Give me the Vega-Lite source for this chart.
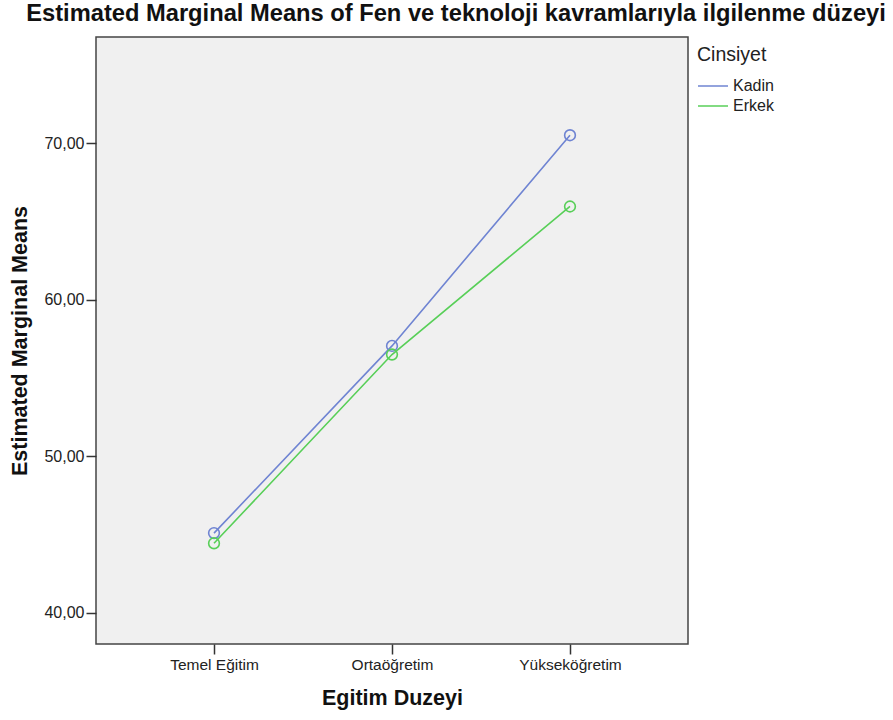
{
  "$schema": "https://vega.github.io/schema/vega-lite/v6.json",
  "autosize": "none",
  "width": 592,
  "height": 607,
  "padding": {"left": 96, "top": 37, "right": 205, "bottom": 76},
  "background": "white",
  "title": {
    "text": "Estimated Marginal Means of Fen ve teknoloji kavramlarıyla ilgilenme düzeyi",
    "font": "Liberation Sans",
    "fontSize": 23.7,
    "fontWeight": "bold",
    "color": "#111111",
    "anchor": "middle",
    "dx": 64,
    "offset": 11
  },
  "config": {
    "view": {"fill": "#f0f0f0", "stroke": "#444444", "strokeWidth": 1.5},
    "axis": {
      "labelFont": "Liberation Sans",
      "titleFont": "Liberation Sans",
      "labelColor": "#222222",
      "titleColor": "#111111",
      "tickColor": "#333333",
      "domain": false,
      "grid": false
    }
  },
  "data": {
    "values": [
      {"egitim": "Temel Eğitim", "cinsiyet": "Kadin", "mean": 45.1},
      {"egitim": "Ortaöğretim", "cinsiyet": "Kadin", "mean": 57.05},
      {"egitim": "Yükseköğretim", "cinsiyet": "Kadin", "mean": 70.5},
      {"egitim": "Temel Eğitim", "cinsiyet": "Erkek", "mean": 44.45},
      {"egitim": "Ortaöğretim", "cinsiyet": "Erkek", "mean": 56.5},
      {"egitim": "Yükseköğretim", "cinsiyet": "Erkek", "mean": 65.95}
    ]
  },
  "encoding": {
    "x": {
      "field": "egitim",
      "type": "ordinal",
      "sort": ["Temel Eğitim", "Ortaöğretim", "Yükseköğretim"],
      "scale": {"type": "point", "padding": 0.663},
      "axis": {
        "title": "Egitim Duzeyi",
        "labelAngle": 0,
        "labelFontSize": 15.5,
        "tickSize": 10,
        "tickWidth": 1.5,
        "labelPadding": 3,
        "titleFontSize": 21.5,
        "titleFontWeight": "bold",
        "titlePadding": 15
      }
    },
    "y": {
      "field": "mean",
      "type": "quantitative",
      "scale": {"domain": [38.02, 76.77], "nice": false, "zero": false},
      "axis": {
        "title": "Estimated Marginal Means",
        "values": [40, 50, 60, 70],
        "format": ".2f",
        "labelExpr": "replace(datum.label, '.', ',')",
        "labelFontSize": 16,
        "tickSize": 10,
        "tickWidth": 1.5,
        "labelPadding": 2,
        "titleFontSize": 21.5,
        "titleFontWeight": "bold",
        "titlePadding": 12
      }
    },
    "color": {
      "field": "cinsiyet",
      "type": "nominal",
      "sort": ["Kadin", "Erkek"],
      "scale": {"domain": ["Kadin", "Erkek"], "range": ["#6f84d2", "#58cf58"]},
      "legend": {
        "title": "Cinsiyet",
        "orient": "none",
        "legendX": 601,
        "legendY": 9,
        "titleFont": "Liberation Sans",
        "titleFontSize": 19.5,
        "titleFontWeight": "normal",
        "titleColor": "#222222",
        "titlePadding": 12,
        "labelFont": "Liberation Sans",
        "labelFontSize": 16,
        "labelColor": "#222222",
        "symbolType": "stroke",
        "symbolSize": 900,
        "clipHeight": 17,
        "symbolStrokeWidth": 1.5,
        "rowPadding": 3,
        "labelOffset": 4
      }
    }
  },
  "layer": [
    {"mark": {"type": "line", "strokeWidth": 1.6}},
    {"mark": {"type": "point", "shape": "circle", "filled": false, "size": 115, "strokeWidth": 1.6, "opacity": 1}}
  ]
}
